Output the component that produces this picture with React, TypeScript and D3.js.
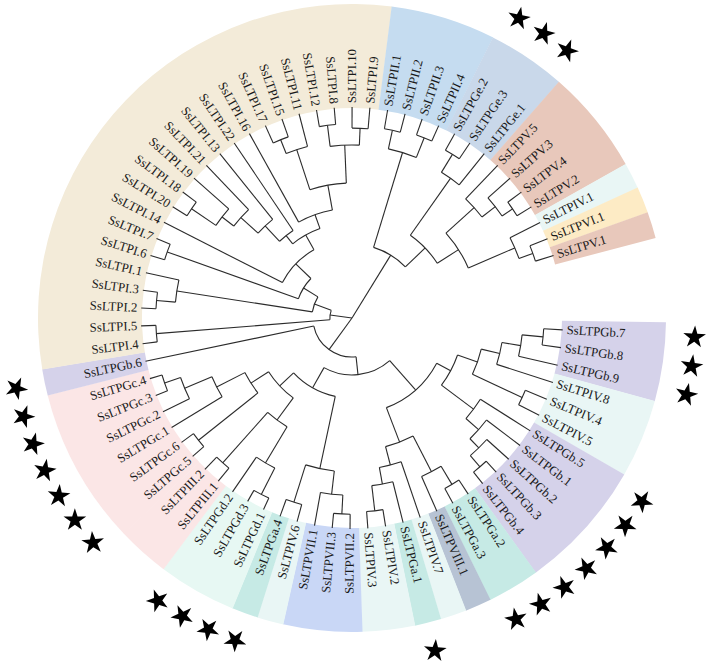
import React from "react";
import * as d3 from "d3";

// Tree (Newick). Internal node labels = node radius as a fraction of leaf radius.
const TREE_NEWICK =
  "(" +
  // clade B
  "((((((((SsLTPGb.7,SsLTPGb.8)0.91,SsLTPGb.9)0.81,SsLTPIV.8)0.72,(SsLTPIV.4,SsLTPIV.5)0.89)0.63," +
  "(SsLTPGb.5,(SsLTPGb.1,(SsLTPGb.2,(SsLTPGb.3,SsLTPGb.4)0.93)0.86)0.8)0.72)0.53," +
  "(((SsLTPGa.2,SsLTPGa.3)0.92,SsLTPVIII.1)0.82,(SsLTPIV.7,(SsLTPGa.1,(SsLTPIV.2,SsLTPIV.3)0.92)0.8)0.72)0.63)0.455," +
  "((((SsLTPVII.2,SsLTPVII.3)0.93,SsLTPVII.1)0.84,(SsLTPIV.6,SsLTPGa.4)0.915)0.73," +
  "((((SsLTPGd.1,SsLTPGd.3)0.94,SsLTPGd.2)0.8,(SsLTPIII.1,SsLTPIII.2)0.92)0.6," +
  "((SsLTPGc.5,SsLTPGc.6)0.93,(SsLTPGc.1,(SsLTPGc.2,(SsLTPGc.3,SsLTPGc.4)0.94)0.86)0.72)0.57)0.47)0.38)0.27," +
  "SsLTPGb.6)0.185," +
  // clade I
  "((SsLTPI.4,SsLTPI.5)0.93,(((SsLTPI.2,SsLTPI.3)0.93,SsLTPI.1)0.84,((SsLTPI.6,SsLTPI.7)0.93," +
  "(SsLTPI.14,((((((SsLTPI.20,SsLTPI.18)0.92,SsLTPI.19)0.78,SsLTPI.21)0.71,SsLTPI.13)0.6,SsLTPI.22)0.5," +
  "(SsLTPI.16,(((SsLTPI.17,SsLTPI.15)0.91,SsLTPI.11)0.84,((SsLTPI.12,SsLTPI.8)0.92,(SsLTPI.10,SsLTPI.9)0.9)0.82)0.64)0.52)0.45)0.37)0.27)0.19)0.105," +
  // clade A
  "(((SsLTPII.1,SsLTPII.2)0.91,(SsLTPII.3,SsLTPII.4)0.92)0.82," +
  "(((SsLTPGe.2,SsLTPGe.3)0.91,SsLTPGe.1)0.81,((SsLTPV.5,(SsLTPV.3,(SsLTPV.4,SsLTPV.2)0.92)0.86)0.78," +
  "(SsLTPIV.1,(SsLTPVI.1,SsLTPV.1)0.91)0.84)0.6)0.48)0.35" +
  ")0;";

const GROUPS = ["I", "II", "Ge", "V", "IV", "VI", "Gb", "Ga", "VIII", "VII", "Gd", "III", "Gc"];
const GROUP_COLORS = [
  "#f3ebd9", "#c5dcf0", "#c9d8ea", "#e8c8bb", "#e9f6f5", "#fdebc5", "#d5d2ea",
  "#c6eae5", "#b7c3d4", "#c9d7f6", "#e7f8f3", "#fbe6e6", "#fbe6e6",
];
const STAR_GROUPS = ["Ga", "Gb", "Gc", "Gd", "Ge"];
const ANGLE_START = 0.8; // degrees, clockwise from 3 o'clock
const ANGLE_SPAN = 344.4;

type TNode = { name?: string; r: number; children?: TNode[] };

function parseNewick(s: string): TNode {
  let i = 0;
  const stop = ",();";
  function node(): TNode {
    if (s[i] === "(") {
      i++;
      const children: TNode[] = [node()];
      while (s[i] === ",") {
        i++;
        children.push(node());
      }
      i++;
      let lab = "";
      while (i < s.length && !stop.includes(s[i])) lab += s[i++];
      return { children, r: +lab };
    }
    let name = "";
    while (i < s.length && !stop.includes(s[i])) name += s[i++];
    return { name, r: 1 };
  }
  return node();
}

const W = 708, H = 666;
const CX = 352, CY = 318;
const R_LEAF = 211, R_LABEL = 215, R_BAND0 = 210, R_BAND1 = 314, R_STAR = 343;

const groupOf = (name: string) => name.replace("SsLTP", "").split(".")[0];

export default function App() {
  const rootData = parseNewick(TREE_NEWICK);
  const root = d3.hierarchy<TNode>(rootData, (d) => d.children);
  d3.cluster<TNode>().size([ANGLE_SPAN, 1]).separation(() => 1)(root);
  root.each((n) => {
    n.x = (n.x as number) + ANGLE_START;
  });
  const rScale = d3.scaleLinear().domain([0, 1]).range([0, R_LEAF]);
  const rad = (deg: number) => (deg * Math.PI) / 180;
  const pt = (deg: number, r: number): [number, number] => [
    CX + r * Math.cos(rad(deg)),
    CY + r * Math.sin(rad(deg)),
  ];

  const leaves = root.leaves();
  const step = ANGLE_SPAN / (leaves.length - 1);

  // tree link paths
  const paths: string[] = [];
  root.each((n) => {
    if (!n.children) return;
    const rp = rScale(n.data.r);
    const angs = n.children.map((c) => c.x as number);
    if (rp > 0) {
      const p = d3.path();
      p.arc(CX, CY, rp, rad(d3.min(angs)!), rad(d3.max(angs)!));
      paths.push(p.toString());
    }
    n.children.forEach((c) => {
      const a = c.x as number;
      const [x0, y0] = pt(a, rp);
      const [x1, y1] = pt(a, rScale(c.data.r));
      paths.push(`M${x0},${y0}L${x1},${y1}`);
    });
  });

  // bands: contiguous runs of same group
  const runs: { g: string; a0: number; a1: number }[] = [];
  leaves.forEach((l) => {
    const g = groupOf(l.data.name!);
    const a = l.x as number;
    const last = runs[runs.length - 1];
    if (last && last.g === g) last.a1 = a + step / 2;
    else runs.push({ g, a0: a - step / 2, a1: a + step / 2 });
  });
  const bandArc = d3.arc<any>().innerRadius(R_BAND0).outerRadius(R_BAND1);
  const colorScale = d3.scaleOrdinal<string, string>().domain(GROUPS).range(GROUP_COLORS);

  const starPath = d3.symbol(d3.symbolStar, 160)()!;

  return (
    <svg width={W} height={H} style={{ position: "absolute", left: 0, top: 0, background: "#fff" }}>
      <g>
        {runs.map((b, i) => (
          <path
            key={i}
            transform={`translate(${CX},${CY})`}
            d={bandArc({ startAngle: rad(b.a0 + 90), endAngle: rad(b.a1 + 90) })!}
            fill={colorScale(b.g)}
          />
        ))}
      </g>
      <g fill="none" stroke="#2b2b2b" strokeWidth={1.1}>
        {paths.map((d, i) => (
          <path key={i} d={d} />
        ))}
      </g>
      <g fontFamily="'Liberation Serif', 'Times New Roman', serif" fontSize={12.8} fill="#1a1a1a">
        {leaves.map((l, i) => {
          const a = l.x as number;
          const [x, y] = pt(a, R_LABEL);
          const flip = a > 90 && a < 270;
          return (
            <text
              key={i}
              transform={`translate(${x},${y}) rotate(${flip ? a - 180 : a})`}
              textAnchor={flip ? "end" : "start"}
              dominantBaseline="central"
            >
              {l.data.name}
            </text>
          );
        })}
      </g>
      <g fill="#000">
        {leaves
          .filter((l) => STAR_GROUPS.includes(groupOf(l.data.name!)))
          .map((l, i) => {
            const a = l.x as number;
            const [x, y] = pt(a, R_STAR);
            return <path key={i} d={starPath} transform={`translate(${x},${y}) rotate(${a})`} />;
          })}
      </g>
    </svg>
  );
}
